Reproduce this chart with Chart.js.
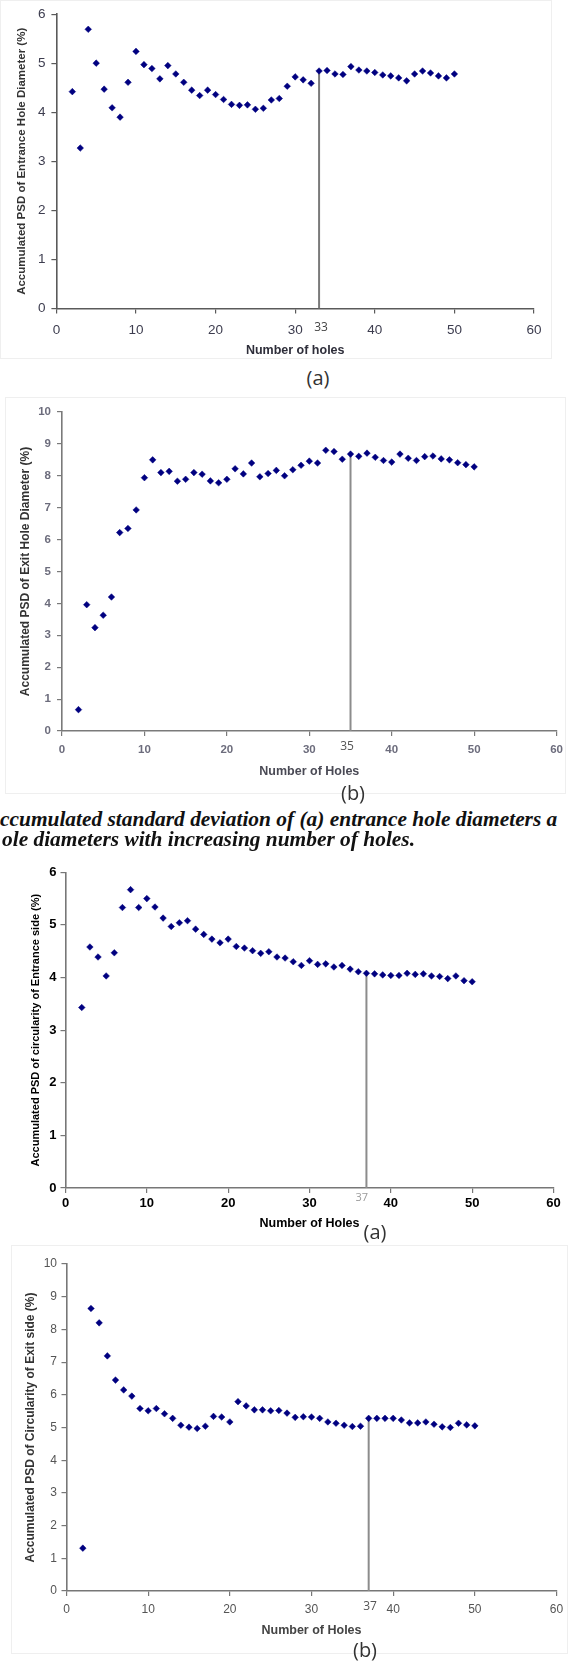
<!DOCTYPE html>
<html><head><meta charset="utf-8">
<script src="https://cdn.jsdelivr.net/npm/chart.js@4.4.1/dist/chart.umd.min.js"></script>
<style>
html,body{margin:0;padding:0;background:#fff;}
body{width:570px;height:1663px;position:relative;overflow:hidden;}
canvas{position:absolute;left:0;}
.lbl{position:absolute;white-space:nowrap;transform:translate(-50%,-50%);font-family:"Open Sans",sans-serif;color:#333;line-height:1;}
.cap{position:absolute;white-space:nowrap;font-family:"Liberation Serif","Times New Roman",serif;font-weight:bold;font-style:italic;color:#111;font-size:21.4px;line-height:20px;}
.frame{position:absolute;border:1px solid #efefef;box-sizing:border-box;}
</style></head><body>
<div class="frame" style="left:0;top:0;width:552px;height:359px"></div>
<div class="frame" style="left:5px;top:397px;width:561px;height:397px"></div>
<div class="frame" style="left:11px;top:1245px;width:557px;height:409px"></div>
<canvas id="c1"></canvas>
<canvas id="c2"></canvas>
<canvas id="c3"></canvas>
<canvas id="c4"></canvas>
<div class="lbl" style="left:318px;top:378px;font-size:20px">(a)</div>
<div class="lbl" style="left:353px;top:793px;font-size:20px">(b)</div>
<div class="cap" style="left:0;top:809px">ccumulated standard deviation of (a) entrance hole diameters a</div>
<div class="cap" style="left:2px;top:829px">ole diameters with increasing number of holes.</div>
<div class="lbl" style="left:375px;top:1232px;font-size:20px">(a)</div>
<div class="lbl" style="left:365px;top:1650px;font-size:20px">(b)</div>
<script>
// ---------------- DATA ----------------
const holes = [2,3,4,5,6,7,8,9,10,11,12,13,14,15,16,17,18,19,20,21,22,23,24,25,26,27,28,29,30,31,32,33,34,35,36,37,38,39,40,41,42,43,44,45,46,47,48,49,50];
const entranceDiameterPSD = [4.42,3.27,5.69,5.00,4.47,4.09,3.90,4.61,5.24,4.97,4.89,4.68,4.95,4.78,4.61,4.45,4.34,4.45,4.36,4.26,4.16,4.14,4.15,4.06,4.08,4.25,4.28,4.53,4.72,4.66,4.59,4.84,4.85,4.78,4.77,4.93,4.86,4.84,4.81,4.76,4.74,4.70,4.64,4.78,4.84,4.80,4.74,4.70,4.78];
const exitDiameterPSD = [0.67,3.96,3.24,3.63,4.20,6.22,6.35,6.93,7.94,8.50,8.10,8.14,7.83,7.89,8.10,8.05,7.84,7.78,7.89,8.22,8.06,8.40,7.97,8.07,8.17,8.00,8.19,8.33,8.46,8.40,8.80,8.76,8.52,8.68,8.61,8.71,8.58,8.48,8.43,8.68,8.55,8.48,8.60,8.62,8.53,8.50,8.41,8.35,8.28];
const entranceCircularityPSD = [3.43,4.58,4.39,4.03,4.47,5.33,5.67,5.33,5.50,5.34,5.13,4.97,5.04,5.08,4.92,4.82,4.73,4.66,4.73,4.59,4.56,4.51,4.46,4.49,4.39,4.37,4.30,4.23,4.32,4.25,4.26,4.20,4.23,4.16,4.11,4.08,4.07,4.05,4.04,4.04,4.08,4.06,4.07,4.03,4.02,3.98,4.03,3.94,3.92];
const exitCircularityPSD = [1.31,8.64,8.20,7.19,6.45,6.15,5.96,5.58,5.51,5.58,5.42,5.28,5.07,5.01,4.97,5.04,5.34,5.32,5.17,5.79,5.66,5.54,5.54,5.51,5.52,5.44,5.31,5.33,5.32,5.28,5.17,5.13,5.07,5.03,5.04,5.28,5.28,5.28,5.28,5.23,5.14,5.14,5.17,5.10,5.02,5.00,5.13,5.08,5.05];
const xTickValues = [0,10,20,30,40,50,60];
const yTicksSix = [0,1,2,3,4,5,6];
const yTicksTen = [0,1,2,3,4,5,6,7,8,9,10];
const stableHoles = [33,35,37,37];
const stableLevels = [4.84,8.68,4.08,5.28];
const xTitles = ['Number of holes','Number of Holes','Number of Holes','Number of Holes'];
const yTitles = ['Accumulated PSD of Entrance Hole Diameter (%)','Accumulated PSD of Exit Hole Diameter (%)','Accumulated PSD of circularity of Entrance side (%)','Accumulated PSD of Circularity of Exit side (%)'];

// ---------------- STYLE / LAYOUT ----------------
Chart.defaults.font.family = "'Liberation Sans', Arial, sans-serif";

const markLabel = {
  id:'markLabel',
  afterDraw(chart, args, o){
    const ctx = chart.ctx, xs = chart.scales.x;
    const px = xs.getPixelForValue(o.value);
    ctx.save();
    ctx.font = o.font; ctx.fillStyle = o.color;
    ctx.textAlign = 'center'; ctx.textBaseline = 'middle';
    ctx.fillText(String(o.value), px + o.dx, chart.chartArea.bottom + o.dy);
    ctx.restore();
  }
};

const specs = [
  {id:'c1', top:0, h:362, left:56.4, right:534, plotTop:12.3, plotBottom:308.5, yMax:6,
   axisColor:'#5a5a5a', tickColor:'#3d3d4f', tickFont:{size:13.5}, xTickPad:9, yTickPad:6,
   xTitleFont:{size:12.5,weight:'bold'}, titleColor:'#2e2e3a', yTitleColor:'#333', xTitlePad:3.8,
   yTitleFont:{size:11.5,weight:'bold'}, yTitlePad:15.1,
   lineColor:'#7a7a7a', markFont:"12px 'Open Sans'", markColor:'#444', dx:2, dy:19},
  {id:'c2', top:395, h:385, left:62, right:557.5, plotTop:17, plotBottom:336, yMax:10,
   axisColor:'#7a7a7a', tickColor:'#6c6c7c', tickFont:{size:11.5,weight:'bold'}, xTickPad:7, yTickPad:6,
   xTitleFont:{size:12.5,weight:'bold'}, titleColor:'#4a4a55', yTitleColor:'#333', xTitlePad:0.5,
   yTitleFont:{size:12,weight:'bold'}, yTitlePad:18.8,
   lineColor:'#8c8c8c', markFont:"12px 'Open Sans'", markColor:'#555', dx:-3.5, dy:15.7},
  {id:'c3', top:850, h:385, left:65.5, right:553.5, plotTop:22.3, plotBottom:338, yMax:6,
   axisColor:'#777', tickColor:'#000', tickFont:{size:13,weight:'bold'}, xTickPad:2.5, yTickPad:4,
   xTitleFont:{size:12.5,weight:'bold'}, titleColor:'#000', yTitleColor:'#000', xTitlePad:3.5,
   yTitleFont:{size:11,weight:'bold'}, yTitlePad:29.4,
   lineColor:'#8c8c8c', markFont:"11px 'Open Sans'", markColor:'#9a9a9a', dx:-4.6, dy:9.7},
  {id:'c4', top:1240, h:400, left:66.5, right:558, plotTop:24, plotBottom:351, yMax:10,
   axisColor:'#777', tickColor:'#555', tickFont:{size:12}, xTickPad:6.8, yTickPad:4.5,
   xTitleFont:{size:12.5,weight:'bold'}, titleColor:'#444', yTitleColor:'#333', xTitlePad:1.5,
   yTitleFont:{size:12,weight:'bold'}, yTitlePad:23.8,
   lineColor:'#8c8c8c', markFont:"12px 'Open Sans'", markColor:'#555', dx:1.4, dy:15.7}
];
const seriesList = [entranceDiameterPSD, exitDiameterPSD, entranceCircularityPSD, exitCircularityPSD];
const yTickLists = [yTicksSix, yTicksTen, yTicksSix, yTicksTen];

specs.forEach((s, k) => {
  const cv = document.getElementById(s.id);
  cv.width = 570; cv.height = s.h; cv.style.top = s.top + 'px';
  const values = seriesList[k];
  const pts = holes.map((h, i) => ({x:h, y:values[i]}));
  const yTicks = yTickLists[k];
  new Chart(cv, {
    type:'scatter',
    data:{datasets:[
      {data:pts, pointStyle:'rectRot', pointRadius:3.3, pointHoverRadius:3.3,
       pointBackgroundColor:'#000080', pointBorderColor:'#000080', pointBorderWidth:0.5, order:1},
      {type:'line', data:[{x:stableHoles[k], y:0},{x:stableHoles[k], y:stableLevels[k]}],
       borderColor:s.lineColor, borderWidth:2, pointRadius:0, fill:false, order:2}
    ]},
    options:{
      responsive:false, animation:false, devicePixelRatio:1, events:[],
      layout:{autoPadding:false, padding:{left:0, top:s.plotTop, right:570 - s.right, bottom:0}},
      plugins:{legend:{display:false}, tooltip:{enabled:false},
        markLabel:{value:stableHoles[k], font:s.markFont, color:s.markColor, dx:s.dx, dy:s.dy}},
      scales:{
        x:{type:'linear', position:'bottom', min:0, max:60,
          afterBuildTicks: sc => { sc.ticks = xTickValues.map(v => ({value:v})); },
          afterFit: sc => { sc.height = s.h - s.plotBottom; },
          grid:{display:true, drawOnChartArea:false, drawTicks:true, tickLength:5, tickColor:s.axisColor, lineWidth:1.2},
          border:{display:true, color:s.axisColor, width:1.6},
          ticks:{font:s.tickFont, color:s.tickColor, padding:s.xTickPad, maxRotation:0, autoSkip:false},
          title:{display:true, text:xTitles[k], font:s.xTitleFont, color:s.titleColor, padding:{top:0, bottom:s.xTitlePad}}
        },
        y:{type:'linear', position:'left', min:0, max:s.yMax,
          afterBuildTicks: sc => { sc.ticks = yTicks.map(v => ({value:v})); },
          afterFit: sc => { sc.width = s.left; },
          grid:{display:true, drawOnChartArea:false, drawTicks:true, tickLength:5, tickColor:s.axisColor, lineWidth:1.2},
          border:{display:true, color:s.axisColor, width:1.6},
          ticks:{font:s.tickFont, color:s.tickColor, padding:s.yTickPad, autoSkip:false},
          title:{display:true, text:yTitles[k], font:s.yTitleFont, color:s.yTitleColor, padding:{top:s.yTitlePad, bottom:0}}
        }
      }
    },
    plugins:[markLabel]
  });
});
</script>
</body></html>
